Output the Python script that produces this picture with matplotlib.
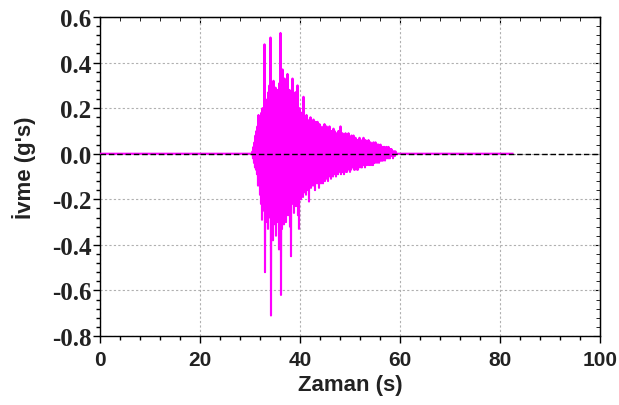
import numpy as np
import matplotlib
matplotlib.use("Agg")
import matplotlib.pyplot as plt
from matplotlib.ticker import MultipleLocator

# Record: quiet before onset, sampled strong-motion section, quiet tail
pre_t = [0.0, 30.4]
pre_a = [0.0, 0.0]
t0 = 30.5      # start of strong-motion section (s)
dt = 0.1       # sampling step of the read-off section (s)
accel = [
    0.01,-0.02,0.03,-0.04,0.05,-0.06,0.08,-0.07,0.10,-0.09,
    0.12,-0.14,0.17,-0.12,0.15,-0.18,0.13,-0.22,0.18,-0.29,
    0.20,-0.25,0.16,-0.21,0.48,-0.52,0.22,-0.30,0.19,-0.26,
    0.24,-0.33,0.27,-0.24,0.30,-0.28,0.51,-0.71,0.26,-0.35,
    0.22,-0.38,0.32,-0.27,0.25,-0.31,0.29,-0.36,0.20,-0.25,
    0.28,-0.30,0.23,-0.42,0.31,-0.26,0.53,-0.62,0.27,-0.33,
    0.37,-0.29,0.25,-0.31,0.33,-0.24,0.21,-0.30,0.26,-0.22,
    0.35,-0.27,0.22,-0.25,0.28,-0.32,0.19,-0.45,0.24,-0.20,
    0.33,-0.22,0.18,-0.26,0.21,-0.19,0.27,-0.23,0.17,-0.21,
    0.30,-0.27,0.16,-0.33,0.20,-0.18,0.15,-0.20,0.18,-0.16,
    0.14,-0.19,0.25,-0.17,0.16,-0.15,0.13,-0.18,0.17,-0.14,
    0.15,-0.16,0.12,-0.21,0.14,-0.13,0.16,-0.15,0.12,-0.14,
    0.13,-0.12,0.15,-0.14,0.11,-0.16,0.14,-0.11,0.12,-0.13,
    0.14,-0.12,0.10,-0.15,0.13,-0.11,0.12,-0.13,0.10,-0.12,
    0.11,-0.13,0.12,-0.10,0.13,-0.12,0.09,-0.11,0.12,-0.10,
    0.10,-0.12,0.11,-0.09,0.12,-0.10,0.08,-0.11,0.10,-0.09,
    0.09,-0.10,0.11,-0.08,0.10,-0.09,0.08,-0.10,0.09,-0.08,
    0.08,-0.09,0.10,-0.08,0.09,-0.07,0.12,-0.09,0.08,-0.08,
    0.09,-0.08,0.07,-0.09,0.08,-0.07,0.09,-0.08,0.07,-0.08,
    0.08,-0.07,0.09,-0.06,0.07,-0.08,0.06,-0.07,0.08,-0.06,
    0.07,-0.06,0.08,-0.07,0.06,-0.07,0.07,-0.05,0.06,-0.07,
    0.06,-0.07,0.05,-0.06,0.07,-0.05,0.06,-0.06,0.05,-0.06,
    0.06,-0.05,0.07,-0.05,0.05,-0.06,0.06,-0.04,0.05,-0.05,
    0.05,-0.04,0.06,-0.05,0.04,-0.05,0.05,-0.04,0.04,-0.05,
    0.04,-0.05,0.05,-0.04,0.04,-0.04,0.05,-0.03,0.04,-0.04,
    0.04,-0.03,0.04,-0.04,0.03,-0.03,0.04,-0.03,0.03,-0.03,
    0.03,-0.03,0.03,-0.02,0.03,-0.03,0.02,-0.02,0.03,-0.02,
    0.02,-0.02,0.03,-0.02,0.02,-0.02,0.02,-0.01,0.02,-0.01,
    0.01,-0.02,0.01,-0.01,0.01,-0.01,0.01,0.0,0.0,0.0,
]
post_t = [59.5, 82.5]
post_a = [0.0, 0.0]

x_ticks = [0, 20, 40, 60, 80, 100]
y_ticks = [-0.8, -0.6, -0.4, -0.2, 0.0, 0.2, 0.4, 0.6]

sec_t = t0 + dt * np.arange(len(accel))
t = np.concatenate([pre_t, sec_t, post_t])
a = np.concatenate([pre_a, accel, post_a])

fig = plt.figure(figsize=(6.19, 4.06), dpi=100)
ax = fig.add_axes([100/619, 1-337/406, 500/619, (337-18)/406])

ax.plot(t, a, color="#ff00ff", lw=1.5, zorder=3)
ax.axhline(0, color="black", lw=1.0, ls=(0, (4, 2)), zorder=4)

ax.set_xlim(0, 100)
ax.set_ylim(-0.8, 0.6)
ax.set_xticks(x_ticks)
ax.set_yticks(y_ticks)
ax.xaxis.set_minor_locator(MultipleLocator(4))
ax.yaxis.set_minor_locator(MultipleLocator(0.04))
ax.grid(True, which="major", color="#b0b0b0", ls=(0, (2, 2)), lw=0.8)

ax.set_xticklabels([f"{v:d}" for v in x_ticks], family="Liberation Sans",
                   weight="bold", size=15, color="#222222")
ax.set_yticklabels([f"{v:.1f}" for v in y_ticks], family="Liberation Serif",
                   weight="bold", size=18, color="#222222")
ax.tick_params(axis="x", which="major", direction="out", length=5, width=1, pad=5)
ax.tick_params(axis="y", which="major", direction="out", length=5, width=1, pad=1)
ax.tick_params(which="minor", direction="out", length=3, width=1)

for s in ax.spines.values():
    s.set_linewidth(1.0)

# inward ticks on top and right
secx = ax.secondary_xaxis("top")
secx.set_xticks(x_ticks)
secx.xaxis.set_minor_locator(MultipleLocator(4))
secx.tick_params(which="major", direction="in", length=5, labeltop=False)
secx.tick_params(which="minor", direction="in", length=3)
secx.set_xticklabels([])
secy = ax.secondary_yaxis("right")
secy.set_yticks(y_ticks)
secy.yaxis.set_minor_locator(MultipleLocator(0.04))
secy.tick_params(which="major", direction="in", length=5, labelright=False)
secy.tick_params(which="minor", direction="in", length=3)
secy.set_yticklabels([])

label_font = dict(family="Liberation Sans", weight="bold", size=16, color="#222222")
ax.set_xlabel("Zaman (s)", labelpad=4, **label_font)
ax.set_ylabel("İvme (g's)", **label_font)
ax.yaxis.set_label_coords(-0.128, 0.53)

fig.savefig("out.png", dpi=100)
